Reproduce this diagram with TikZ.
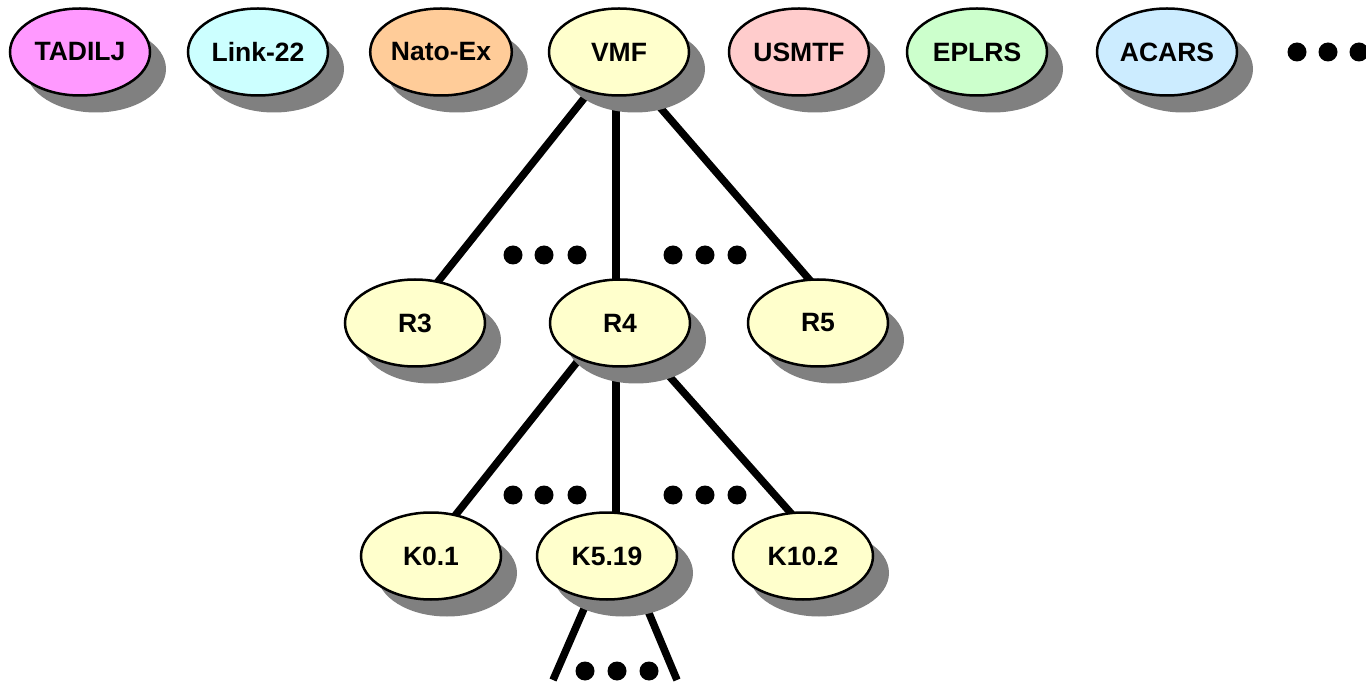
\documentclass[tikz,border=0pt]{standalone}
\usepackage{fontspec}
\setmainfont{Liberation Sans}
\usetikzlibrary{shapes.geometric,shadows}
\pgfdeclarelayer{canvas}
\pgfdeclarelayer{background}
\pgfsetlayers{canvas,background,main}

\definecolor{fMagenta}{HTML}{FF99FF}
\definecolor{fCyan}{HTML}{CCFFFF}
\definecolor{fOrange}{HTML}{FFCC99}
\definecolor{fYellow}{HTML}{FFFFCC}
\definecolor{fRose}{HTML}{FFCCCC}
\definecolor{fGreen}{HTML}{CCFFCC}
\definecolor{fBlue}{HTML}{CCECFF}
\definecolor{shadowgray}{HTML}{808080}

\tikzset{
  proto/.style={ellipse, draw=black, line width=2.5pt,
    minimum width=140pt, minimum height=87pt, inner sep=0pt,
    font=\fontsize{26.5}{30}\selectfont\bfseries,
    drop shadow={shadow xshift=16pt, shadow yshift=-17pt,
                 fill=shadowgray, opacity=1}},
  branch/.style={line width=7.5pt},
  dotmark/.style={fill=black}
}

\begin{document}
\begin{tikzpicture}[x=1pt,y=-1pt]
  \useasboundingbox (0,0) rectangle (1366,684);
  \begin{pgfonlayer}{canvas}
    \fill[white] (0,0) rectangle (1366,684);
  \end{pgfonlayer}

  % message standards
  \node[proto, fill=fMagenta] (tadilj) at (80,52)   {TADILJ};
  \node[proto, fill=fCyan]    (link22) at (258,52)  {Link-22};
  \node[proto, fill=fOrange]  (natoex) at (441,52)  {Nato-Ex};
  \node[proto, fill=fYellow]  (vmf)    at (619,52)  {VMF};
  \node[proto, fill=fRose]    (usmtf)  at (799,52)  {USMTF};
  \node[proto, fill=fGreen]   (eplrs)  at (977,52)  {EPLRS};
  \node[proto, fill=fBlue]    (acars)  at (1167,52) {ACARS};

  % VMF releases
  \node[proto, fill=fYellow] (r3) at (415,323) {R3};
  \node[proto, fill=fYellow] (r4) at (620,323) {R4};
  \node[proto, fill=fYellow] (r5) at (818,323) {R5};

  % R4 messages
  \node[proto, fill=fYellow] (k01)  at (431,556) {K0.1};
  \node[proto, fill=fYellow] (k519) at (607,556) {K5.19};
  \node[proto, fill=fYellow] (k102) at (803,556) {K10.2};

  % open ends below K5.19
  \coordinate (leafL) at (553,680);
  \coordinate (leafR) at (677,680);

  % tree branches, kept behind the ellipses and their shadows
  \begin{pgfonlayer}{background}
    \draw[branch] ([xshift=2pt]vmf.center)  -- ([xshift=-10pt]r3.center);
    \draw[branch] ([xshift=-3pt]vmf.center) -- ([xshift=-3pt]vmf.center |- r4.center);
    \draw[branch] ([xshift=-7pt]vmf.center) -- ([xshift=29pt]r5.center);

    \draw[branch] ([xshift=-12pt]r4.center) -- ([xshift=-8pt]k01.center);
    \draw[branch] ([xshift=-4pt]r4.center)  -- ([xshift=-4pt]r4.center |- k519.center);
    \draw[branch] ([xshift=2pt]r4.center)   -- ([xshift=26pt]k102.center);

    \draw[branch] (k519.center) -- (leafL);
    \draw[branch] ([xshift=18pt]k519.center) -- (leafR);
  \end{pgfonlayer}

  % ellipsis marks
  \foreach \x in {1297,1328,1359} \fill[dotmark] (\x,52) circle [radius=9.5pt];
  \foreach \x in {513,544,577,673,705,737} \fill[dotmark] (\x,255) circle [radius=9.5pt];
  \foreach \x in {513,544,577,673,705,737} \fill[dotmark] (\x,495) circle [radius=9.5pt];
  \foreach \x in {585,617,649} \fill[dotmark] (\x,671) circle [radius=9.5pt];
\end{tikzpicture}
\end{document}
